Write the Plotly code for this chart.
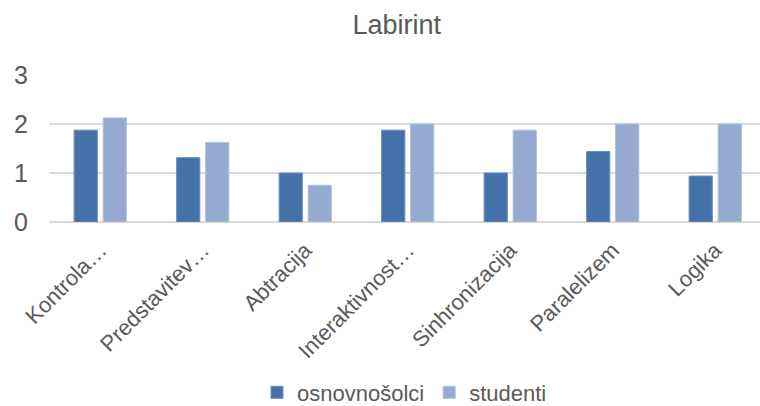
import plotly.graph_objects as go

categories = ["Kontrola…", "Predstavitev…", "Abtracija", "Interaktivnost…",
              "Sinhronizacija", "Paralelizem", "Logika"]
osnovnosolci = [1.875, 1.3125, 1.0, 1.875, 1.0, 1.4375, 0.9375]
studenti = [2.125, 1.625, 0.75, 2.0, 1.875, 2.0, 2.0]
y_ticks = [0, 1, 2, 3]

FONT = "Liberation Sans, Arial, sans-serif"
GRAY = "#595959"

fig = go.Figure()
fig.add_trace(go.Bar(x=categories, y=osnovnosolci, name="osnovnošolci",
                     marker=dict(color="#4472A8", line=dict(color="#6A8DBE", width=1))))
fig.add_trace(go.Bar(x=categories, y=studenti, name="studenti",
                     marker=dict(color="#95A9D1", line=dict(color="#AFC0E0", width=1))))

fig.update_layout(
    width=760, height=406,
    margin=dict(l=49, r=0, t=75, b=184, autoexpand=False),
    paper_bgcolor="white", plot_bgcolor="white",
    font=dict(family=FONT, color=GRAY, size=22),
    title=dict(text="Labirint", x=0.522, xanchor="center", y=0.94, yanchor="middle",
               font=dict(family=FONT, size=27, color=GRAY)),
    barmode="group", bargap=0.434, bargroupgap=0.2,
    showlegend=True,
    legend=dict(orientation="h", x=0.5, xanchor="center", y=-1.16, yanchor="middle",
                font=dict(family=FONT, size=22, color=GRAY), itemwidth=30),
    xaxis=dict(range=[-0.5, 6.437], tickangle=-45, showgrid=False, showline=False,
               automargin=False, ticks="", ticklabelstandoff=10,
               tickfont=dict(family=FONT, size=22, color=GRAY)),
    yaxis=dict(range=[0, 3], tickvals=y_ticks, showgrid=True, gridcolor="#D9D9D9",
               gridwidth=1.5, zeroline=True, zerolinecolor="#D9D9D9", zerolinewidth=1.5,
               automargin=False, ticklabelstandoff=20,
               tickfont=dict(family=FONT, size=25, color=GRAY)),
)

fig.write_html("out.html")
